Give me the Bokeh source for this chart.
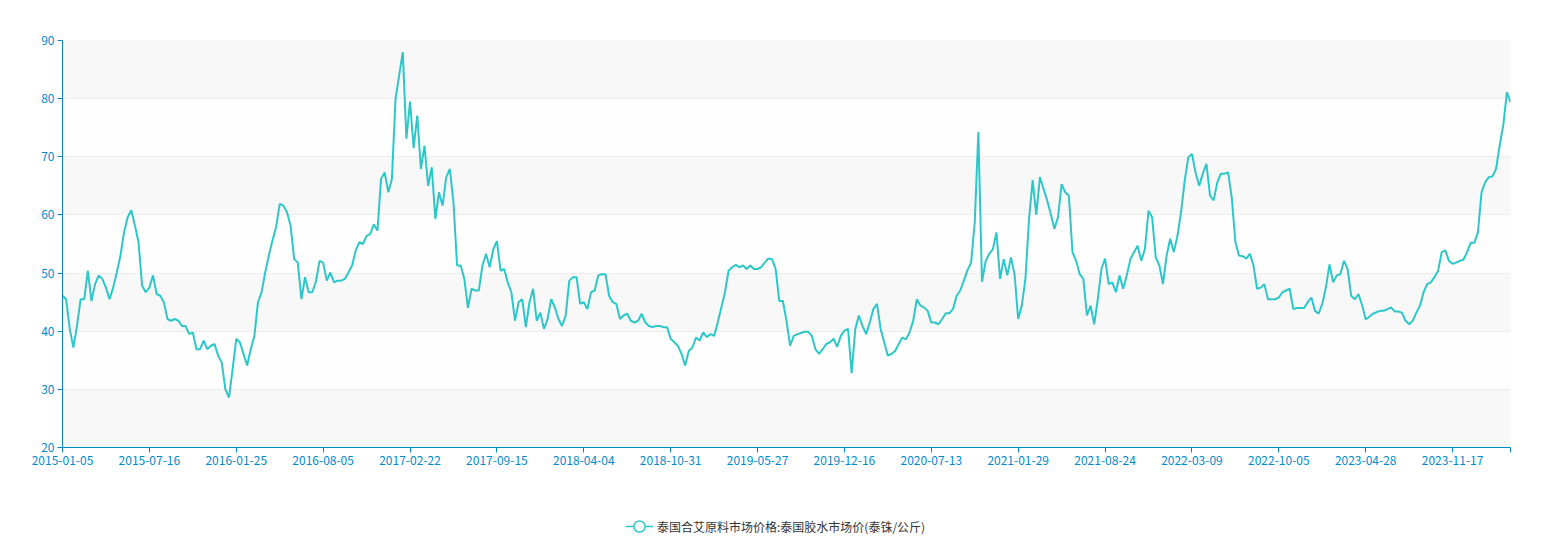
from bokeh.plotting import figure
from bokeh.models import Range1d, FixedTicker, Legend, LegendItem, ColumnDataSource
from bokeh.layouts import column
from bokeh.embed import file_html
from bokeh.resources import INLINE

# ---- data ----
tick_labels = ["2015-01-05", "2015-07-16", "2016-01-25", "2016-08-05", "2017-02-22",
               "2017-09-15", "2018-04-04", "2018-10-31", "2019-05-27", "2019-12-16",
               "2020-07-13", "2021-01-29", "2021-08-24", "2022-03-09", "2022-10-05",
               "2023-04-28", "2023-11-17"]
label_step = 24  # samples between labelled categories

series_name = "泰国合艾原料市场价格:泰国胶水市场价(泰铢/公斤)"
prices = [
    46.1, 45.5, 40.4, 37.2, 40.9, 45.5, 45.5, 50.4, 45.2, 48.1,
    49.6, 49.0, 47.5, 45.5, 47.5, 50.1, 53.0, 57.0, 59.6, 60.8,
    58.2, 55.3, 47.8, 46.7, 47.5, 49.6, 46.4, 46.1, 45.0, 42.1,
    41.8, 42.1, 41.8, 40.9, 40.9, 39.5, 39.8, 36.9, 36.9, 38.4,
    36.9, 37.5, 37.8, 35.8, 34.6, 30.0, 28.6, 33.5, 38.7, 38.1,
    36.1, 34.1, 36.9, 39.2, 45.0, 46.7, 50.1, 53.0, 55.6, 57.9,
    61.9, 61.6, 60.5, 58.2, 52.4, 51.8, 45.5, 49.3, 46.7, 46.7,
    48.5, 52.1, 51.8, 48.7, 50.1, 48.4, 48.7, 48.7, 49.0, 50.1,
    51.3, 53.9, 55.3, 55.0, 56.4, 56.7, 58.4, 57.3, 66.2, 67.3,
    63.9, 66.2, 80.0, 84.0, 88.0, 73.1, 79.5, 71.5, 77.1, 67.9,
    71.9, 65.0, 68.2, 59.3, 63.9, 61.6, 66.5, 67.9, 62.2, 51.3,
    51.3, 49.0, 44.0, 47.3, 47.0, 47.0, 51.3, 53.3, 51.0, 54.1,
    55.5, 50.4, 50.7, 48.4, 46.7, 41.8, 45.0, 45.5, 40.7, 45.0,
    47.3, 41.8, 43.2, 40.4, 42.1, 45.5, 44.1, 42.1, 40.9, 42.7,
    48.7, 49.3, 49.3, 44.7, 45.0, 43.8, 46.7, 47.0, 49.6, 49.8,
    49.8, 46.1, 45.0, 44.7, 42.1, 42.7, 43.0, 41.8, 41.5, 41.8,
    43.0, 41.5, 40.9, 40.7, 40.9, 40.9, 40.7, 40.7, 38.7, 38.1,
    37.5, 36.1, 34.1, 36.6, 37.2, 38.9, 38.4, 39.8, 39.0, 39.5,
    39.2, 41.5, 44.1, 46.7, 50.4, 51.0, 51.4, 51.0, 51.3, 50.7,
    51.3, 50.7, 50.7, 51.0, 51.8, 52.5, 52.4, 50.7, 45.2, 45.2,
    41.8, 37.5, 39.2, 39.5, 39.7, 39.9, 39.9, 39.2, 36.9, 36.1,
    36.9, 37.8, 38.1, 38.7, 37.3, 39.2, 40.1, 40.4, 32.8, 40.4,
    42.7, 40.9, 39.5, 41.5, 43.8, 44.7, 40.4, 38.1, 35.8, 36.1,
    36.6, 37.8, 38.9, 38.6, 39.8, 41.8, 45.5, 44.4, 44.1, 43.5,
    41.5, 41.5, 41.2, 42.1, 43.1, 43.1, 43.8, 46.1, 47.0, 48.7,
    50.5, 51.8, 58.7, 74.3, 48.5, 52.0, 53.3, 54.1, 57.0, 49.0,
    52.4, 49.6, 52.7, 49.8, 42.1, 44.4, 49.0, 59.3, 66.0, 60.0,
    66.5, 64.5, 62.5, 60.2, 57.6, 59.6, 65.3, 63.9, 63.3, 53.6,
    52.1, 49.8, 49.0, 42.7, 44.4, 41.2, 45.5, 50.7, 52.5, 48.1,
    48.4, 46.7, 49.6, 47.3, 49.6, 52.4, 53.6, 54.7, 52.1, 54.1,
    60.7, 59.6, 52.7, 51.3, 48.1, 53.0, 55.9, 53.6, 56.4, 60.5,
    65.9, 69.9, 70.5, 67.3, 65.0, 67.1, 68.8, 63.3, 62.5, 65.6,
    67.1, 67.1, 67.3, 63.0, 55.3, 53.0, 52.9, 52.5, 53.3, 51.3,
    47.3, 47.5, 48.1, 45.5, 45.5, 45.5, 45.8, 46.7, 47.0, 47.3,
    43.8, 44.0, 44.0, 44.0, 45.0, 45.8, 43.5, 43.0, 44.7, 47.5,
    51.5, 48.4, 49.6, 49.8, 52.1, 50.7, 46.1, 45.5, 46.4, 44.5,
    42.0, 42.5, 43.0, 43.3, 43.5, 43.5, 43.8, 44.1, 43.4, 43.4,
    43.2, 41.8, 41.2, 41.8, 43.2, 44.4, 46.7, 48.1, 48.4, 49.3,
    50.4, 53.6, 53.9, 52.1, 51.6, 51.8, 52.1, 52.3, 53.6, 55.2,
    55.2, 57.0, 63.9, 65.6, 66.5, 66.6, 67.9, 71.9, 75.4, 81.1,
    79.4,
]
y_ticks = [20, 30, 40, 50, 60, 70, 80, 90]

# ---- styling ----
LINE = "#2ec7c9"
AXIS = "#008acd"
FONT = "Noto Sans CJK SC"

n = len(prices)
xs = list(range(n))
last = n - 1

p = figure(width=1542, height=477, output_backend="svg", toolbar_location=None,
           x_range=Range1d(0, last), y_range=Range1d(y_ticks[0], y_ticks[-1]),
           min_border_left=62, min_border_right=32, min_border_top=40, min_border_bottom=30)
p.outline_line_color = None
# shaded bands are 20-30, 40-50, ...: use a light grey frame and paint the alternate bands white
p.background_fill_color = "#f8f8f8"
p.border_fill_color = "white"

src = ColumnDataSource(dict(x=xs, y=prices))
p.line("x", "y", source=src, line_color=LINE, line_width=2)

# x axis (category-like)
tick_pos = [k * label_step for k in range(len(tick_labels))] + [last]
p.xaxis.ticker = FixedTicker(ticks=tick_pos)
overrides = {k * label_step: lab for k, lab in enumerate(tick_labels)}
overrides[last] = ""
p.xaxis.major_label_overrides = overrides
p.yaxis.ticker = FixedTicker(ticks=y_ticks)

for ax in (p.xaxis[0], p.yaxis[0]):
    ax.axis_line_color = AXIS
    ax.axis_line_width = 1
    ax.major_tick_line_color = AXIS
    ax.major_tick_out = 5
    ax.major_tick_in = 0
    ax.minor_tick_line_color = None
    ax.major_label_text_color = AXIS
    ax.major_label_text_font = FONT
    ax.major_label_text_font_size = "12px"
p.xaxis.major_label_standoff = 3
p.yaxis.major_label_standoff = 3

p.xgrid.grid_line_color = None
p.ygrid.grid_line_color = "#eeeeee"
p.ygrid.band_fill_color = "#fefefe"
p.ygrid.band_fill_alpha = 1.0
p.ygrid.level = "underlay"

# ---- legend strip below the chart ----
lf = figure(width=1542, height=68, output_backend="svg", toolbar_location=None,
            x_axis_location=None, y_axis_location=None, min_border=0,
            x_range=Range1d(0, 1), y_range=Range1d(0, 1))
lf.outline_line_color = None
lf.grid.visible = False
lf.background_fill_color = "white"
lf.border_fill_color = "white"
# proxy renderers kept outside the visible range; they only feed the legend glyph
proxy = ColumnDataSource(dict(x=[-5, -4], y=[-5, -4]))
r_line = lf.line("x", "y", source=proxy, line_color=LINE, line_width=1.5)
r_mark = lf.scatter("x", "y", source=proxy, marker="circle", size=12, fill_color="white",
                    line_color=LINE, line_width=1.5)
legend = Legend(items=[LegendItem(label=series_name, renderers=[r_line, r_mark])],
                location=(563, 5), orientation="horizontal",
                glyph_width=28, glyph_height=28, label_standoff=4,
                padding=0, margin=0, border_line_color=None, background_fill_alpha=0,
                label_text_font=FONT, label_text_font_size="12px", label_text_color="#333333")
lf.add_layout(legend)

layout = column(p, lf, spacing=0)
open("out.html", "w").write(file_html(layout, INLINE))
